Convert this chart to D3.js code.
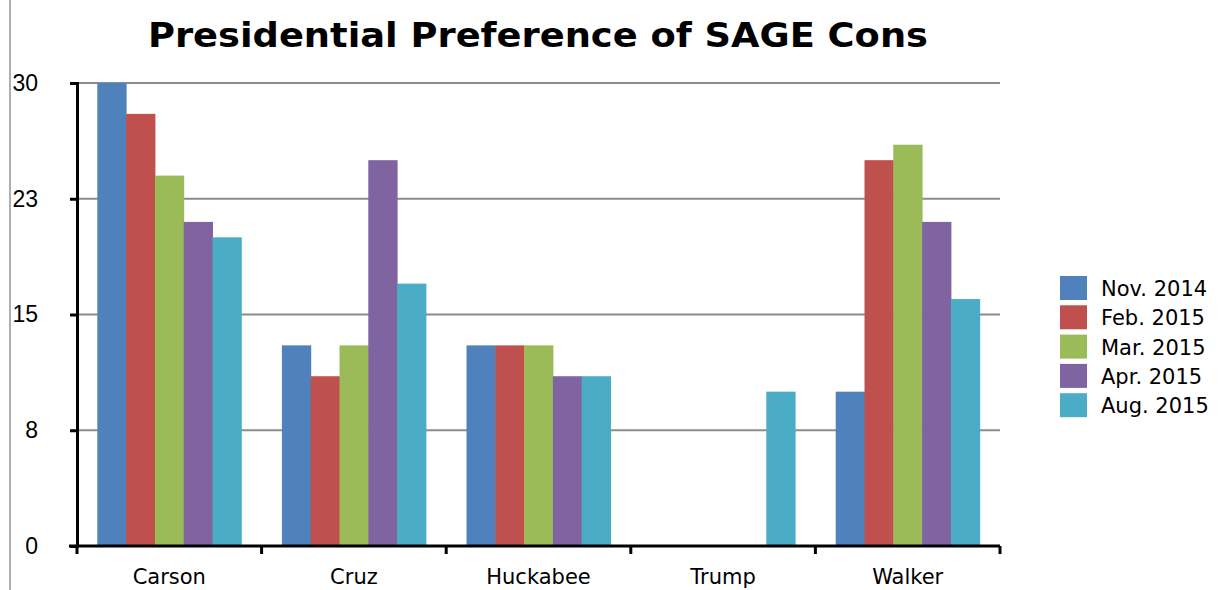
<!DOCTYPE html>
<meta charset="utf-8">
<style>
body { margin: 0; background: #fff; }
svg { font-family: "DejaVu Sans", Verdana, sans-serif; }
.grid line { stroke: #8c8c8c; stroke-width: 2px; }
</style>
<body>
<script src="https://d3js.org/d3.v7.min.js"></script>
<script>

var candidates = ["Carson", "Cruz", "Huckabee", "Trump", "Walker"];
var polls = ["Nov. 2014", "Feb. 2015", "Mar. 2015", "Apr. 2015", "Aug. 2015"];
var colors = ["#4f81bd", "#c0504d", "#9bbb59", "#8064a2", "#4bacc6"];
// one array per poll, in candidate order
var nov2014 = [30, 13, 13, 0, 10];
var feb2015 = [28, 11, 13, 0, 25];
var mar2015 = [24, 13, 13, 0, 26];
var apr2015 = [21, 25, 11, 0, 21];
var aug2015 = [20, 17, 11, 10, 16];
var yTicks = [0, 7.5, 15, 22.5, 30];

var series = [nov2014, feb2015, mar2015, apr2015, aug2015];

var W = 1227, H = 590,
    mLeft = 77, mRight = 1000, mTop = 83, mBottom = 546;

var svg = d3.select("body").append("svg")
    .attr("width", W)
    .attr("height", H);

// thin border line on the left
svg.append("line")
  .attr("x1", 10).attr("x2", 10)
  .attr("y1", 0).attr("y2", H)
  .attr("stroke", "#b0b0b0").attr("stroke-width", 2);

var x = d3.scaleBand().domain(candidates).range([mLeft, mRight]).paddingInner(0.22).paddingOuter(0.11);
var xFull = d3.scaleBand().domain(candidates).range([mLeft, mRight]);
var x1 = d3.scaleBand().domain(polls).range([0, x.bandwidth()]);
var y = d3.scaleLinear().domain([0, 30]).range([mBottom, mTop]);

svg.append("g").attr("class", "grid")
  .selectAll("line").data(yTicks.slice(1))
  .enter().append("line")
  .attr("x1", mLeft).attr("x2", mRight)
  .attr("y1", function(d){ return y(d); })
  .attr("y2", function(d){ return y(d); });

var groups = svg.selectAll(".group")
  .data(candidates)
  .enter().append("g")
  .attr("transform", function(d){ return "translate(" + x(d) + ",0)"; });

groups.selectAll("rect")
  .data(function(c, ci){
    return polls.map(function(p, pi){ return {poll: p, i: pi, v: series[pi][ci]}; });
  })
  .enter().append("rect")
  .attr("x", function(d){ return x1(d.poll); })
  .attr("width", x1.bandwidth() + 0.5)
  .attr("y", function(d){ return y(d.v); })
  .attr("height", function(d){ return mBottom - y(d.v); })
  .attr("fill", function(d){ return colors[d.i]; });

// y axis
var yAxis = svg.append("g")
  .attr("transform", "translate(" + mLeft + ",0)")
  .call(d3.axisLeft(y).tickValues(yTicks).tickSize(7).tickPadding(32)
    .tickFormat(function(d){ return Math.round(d); }));
yAxis.select(".domain").attr("stroke", "#000").attr("stroke-width", 3);
yAxis.selectAll(".tick line").attr("stroke", "#000").attr("stroke-width", 3);
yAxis.selectAll("text").attr("font-size", 23).attr("fill", "#000");

// x axis
var xAxis = svg.append("g")
  .attr("transform", "translate(0," + mBottom + ")");
xAxis.append("line")
  .attr("x1", mLeft - 8).attr("x2", mRight)
  .attr("stroke", "#000").attr("stroke-width", 3);
xAxis.selectAll(".xtick")
  .data(candidates.concat(["end"]))
  .enter().append("line")
  .attr("x1", function(d, i){ return i < candidates.length ? xFull(d) : mRight; })
  .attr("x2", function(d, i){ return i < candidates.length ? xFull(d) : mRight; })
  .attr("y1", 0).attr("y2", 8)
  .attr("stroke", "#000").attr("stroke-width", 3);
xAxis.selectAll(".xlabel")
  .data(candidates)
  .enter().append("text")
  .attr("x", function(d){ return xFull(d) + xFull.bandwidth() / 2; })
  .attr("y", 38)
  .attr("text-anchor", "middle")
  .attr("font-size", 21)
  .text(function(d){ return d; });

// title
svg.append("text")
  .attr("x", 538).attr("y", 47)
  .attr("text-anchor", "middle")
  .attr("font-weight", "bold")
  .attr("font-size", 33)
  .attr("textLength", 780)
  .attr("lengthAdjust", "spacingAndGlyphs")
  .text("Presidential Preference of SAGE Cons");

// legend
var legend = svg.selectAll(".legend")
  .data(polls)
  .enter().append("g")
  .attr("transform", function(d, i){ return "translate(1060," + (276 + i * 29.3) + ")"; });
legend.append("rect")
  .attr("width", 27).attr("height", 24)
  .attr("fill", function(d, i){ return colors[i]; });
legend.append("text")
  .attr("x", 41).attr("y", 20)
  .attr("font-size", 21)
  .text(function(d){ return d; });

</script>
